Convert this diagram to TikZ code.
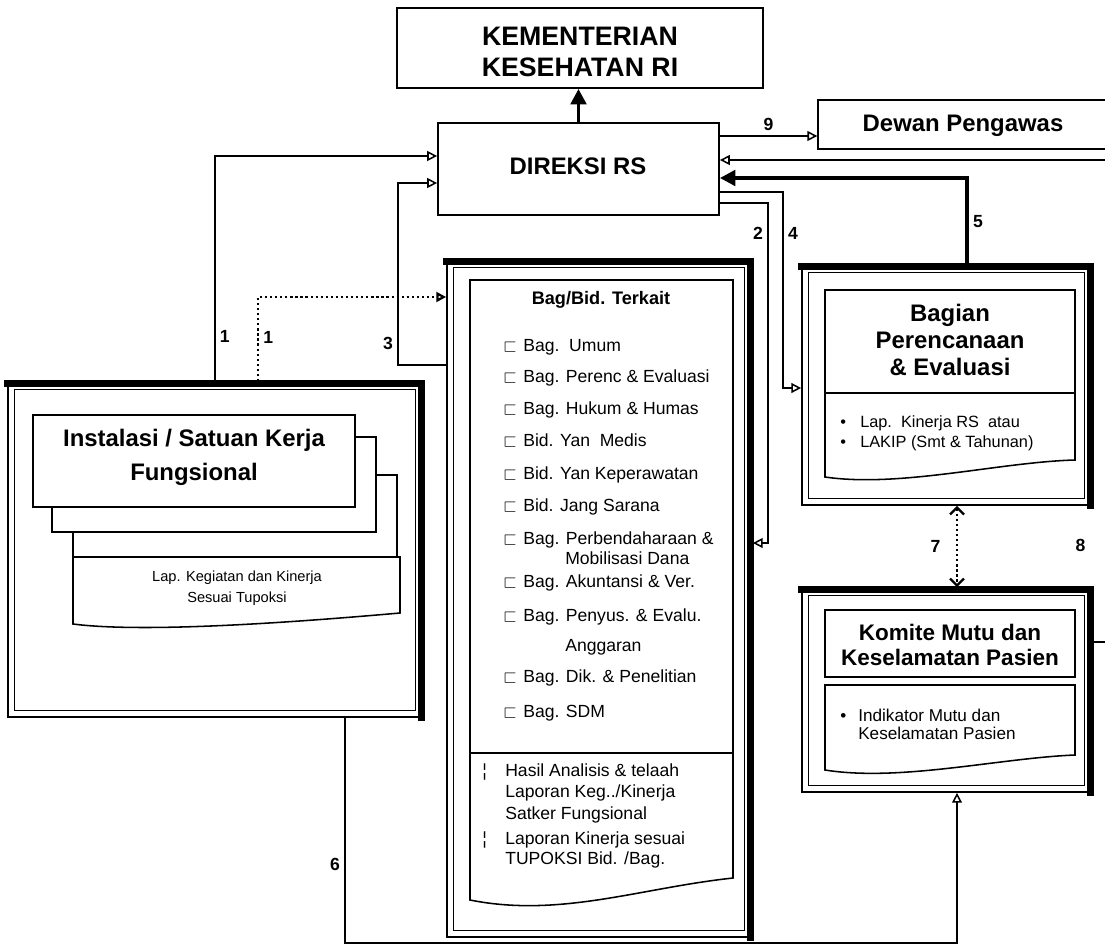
\documentclass[tikz,border=0pt]{standalone}
\usepackage{amssymb}
\usepackage{fontspec}
\setmainfont{Liberation Sans}
\usetikzlibrary{calc, arrows.meta, fit}

\begin{document}
\begin{tikzpicture}[x=0.025cm, y=-0.025cm,
    box/.style={draw, line width=1.3pt, fill=white, inner sep=0pt},
    dblframe/.style={draw, line width=1.2pt, fill=white, inner sep=0pt},
    card/.style={draw, line width=1.1pt, fill=white},
    item/.style={anchor=west, inner sep=0pt, text height=9pt, text depth=2.5pt, font=\fontsize{12.5}{14}\selectfont},
    num/.style={font=\bfseries\fontsize{12.5}{14}\selectfont, inner sep=3pt},
    link/.style={line width=1.1pt, -{Triangle[open, length=7pt, width=7pt]}},
    dotlink/.style={line width=1.6pt, dotted, -{Triangle[open, length=7pt, width=7pt]}},
    bigarrow/.style={line width=2.6pt, -{Triangle[length=11pt, width=11pt]}}]

    \useasboundingbox (0,0) rectangle (1105,949);
    \clip (0,0) rectangle (1105,949);

    % Top boxes
    \node[box, fit={(397,8) (763,88)}] (kemenkes) {};
    \node[align=center, font=\bfseries\fontsize{19}{21.5}\selectfont] (kemenkestxt) at (580,52) {KEMENTERIAN\\KESEHATAN RI};
    \node[box, fit={(438,123) (719,215)}] (direksi) {};
    \node[font=\bfseries\fontsize{17}{20}\selectfont] (direksitxt) at (578,166) {DIREKSI RS};
    \node[box, line width=1pt, fit={(818,100) (1118,149)}] (dewan) {};
    \node[font=\bfseries\fontsize{17}{20}\selectfont] (dewantxt) at (963,126) {Dewan Pengawas};

    % Double frames
    \node[dblframe, fit={(8,382) (423,717)}] (instalasi) {};
    \node[dblframe, fit={(447,260) (752,937)}] (bagbid) {};
    \node[dblframe, fit={(802,265) (1092,505)}] (perencanaan) {};
    \node[dblframe, fit={(802,588) (1092,792)}] (komite) {};
    \foreach \f in {instalasi, bagbid, perencanaan, komite} {
        \draw[line width=5pt, line cap=rect] ($(\f.south east)+(-2,0)$) -- ($(\f.north east)+(-2,2)$) -- ($(\f.north west)+(0,2)$);
        \draw[line width=0.6pt] ($(\f.north west)+(7,8)$) rectangle ($(\f.south east)+(-8,-7)$);
    }

    % Instalasi / Satuan Kerja Fungsional
    \draw[card] (73,475) rectangle (397,557);
    \draw[card] (52,437) rectangle (376,532);
    \node[card, fit={(33,415) (355,507)}, inner sep=0pt] (instcard) {};
    \node[align=center, font=\bfseries\fontsize{17}{24}\selectfont] (insttxt) at (194,457) {Instalasi / Satuan Kerja\\Fungsional};
    \draw[card] (73,557) -- (400,557) -- (400,613) .. controls (320,620) and (150,634) .. (73,624) -- cycle;
    \node[align=center, font=\fontsize{10.4}{15}\selectfont] (lapkeg) at (237,588) {Lap. Kegiatan dan Kinerja\\Sesuai Tupoksi};

    % Bag/Bid. Terkait
    \draw[card] (470,280) -- (733,280) -- (733,878) .. controls (640,888) and (560,918) .. (470,900) -- cycle;
    \draw[line width=1.1pt] (470,753) -- (733,753);
    \node[font=\bfseries\fontsize{12.9}{15}\selectfont] (bagtitle) at (601,300) {Bag/Bid. Terkait};
    \foreach \y/\txt in {347/{Bag.\ \ Umum}, 378/{Bag. Perenc \& Evaluasi}, 410/{Bag. Hukum \& Humas},
                         442/{Bid. Yan\ \ Medis}, 475/{Bid. Yan Keperawatan}, 507/{Bid. Jang Sarana},
                         540/{Bag. Perbendaharaan \&}, 583/{Bag. Akuntansi \& Ver.},
                         617/{Bag. Penyus. \& Evalu.}, 678/{Bag. Dik. \& Penelitian}, 713/{Bag. SDM}} {
        \node[item] (bul\y) at (503,\y) {$\sqsubset$};
        \node[item] (itm\y) at (523,\y) {\txt};
    }
    \node[item] (itm560) at (565,560) {Mobilisasi Dana};
    \node[item] (itm647) at (565,647) {Anggaran};
    \foreach \y/\txt in {772/{Hasil Analisis \& telaah}, 793/{Laporan Keg../Kinerja}, 815/{Satker Fungsional},
                         840/{Laporan Kinerja sesuai}, 860/{TUPOKSI Bid. /Bag.}} {
        \node[item] (hsl\y) at (505,\y) {\txt};
    }
    \node[item] (bar772) at (482,772) {¦};
    \node[item] (bar840) at (482,840) {¦};

    % Bagian Perencanaan & Evaluasi
    \draw[card] (825,290) -- (1075,290) -- (1075,460) .. controls (1000,462) and (900,488) .. (825,477) -- cycle;
    \draw[line width=1.1pt] (825,393) -- (1075,393);
    \node[align=center, font=\bfseries\fontsize{17}{19.3}\selectfont] (pertitle) at (950,340) {Bagian\\Perencanaan\\\& Evaluasi};
    \node[item, font=\fontsize{11.6}{13}\selectfont] (perbul1) at (840,423) {•};
    \node[item, font=\fontsize{11.6}{13}\selectfont] (perbul2) at (840,443) {•};
    \node[item, font=\fontsize{11.6}{13}\selectfont] (lapkin) at (860,423) {Lap.\ \ Kinerja RS\ \ atau};
    \node[item, font=\fontsize{11.6}{13}\selectfont] (lakip) at (860,443) {LAKIP (Smt \& Tahunan)};

    % Komite Mutu
    \node[card, fit={(825,610) (1075,677)}, inner sep=0pt] (komtitle) {};
    \node[align=center, font=\bfseries\fontsize{16}{17.8}\selectfont] (komtxt) at (950,645) {Komite Mutu dan\\Keselamatan Pasien};
    \draw[card] (825,685) -- (1075,685) -- (1075,755) .. controls (1000,758) and (900,782) .. (825,770) -- cycle;
    \node[item, font=\fontsize{12.2}{13}\selectfont] (kombul) at (840,717) {•};
    \node[item, font=\fontsize{12.2}{13}\selectfont] (indik1) at (858,717) {Indikator Mutu dan};
    \node[item, font=\fontsize{12.2}{13}\selectfont] (indik2) at (858,735) {Keselamatan Pasien};

    % Bend points
    \coordinate (c1s) at (215,156);
    \coordinate (c1d) at (258,297);
    \coordinate (c2a) at (768,203);
    \coordinate (c2b) at (768,543);
    \coordinate (c3a) at (398,365);
    \coordinate (c3b) at (398,183);
    \coordinate (c4a) at (783,192);
    \coordinate (c4b) at (783,388);
    \coordinate (c5) at (967,178);
    \coordinate (c6a) at (345,943);
    \coordinate (c6b) at (957,943);
    \coordinate (c7) at (957,545);
    \coordinate (c8a) at (1110,642);
    \coordinate (c8b) at (1110,160);
    \coordinate (c9) at (768,136);

    % Connectors
    \draw[bigarrow] (direksi.north) -- (kemenkes.south -| direksi.north);
    \draw[link] (direksi.east |- c9) -- (dewan.west |- c9) node[num, midway, above] {9};
    \draw[link] (instalasi.north -| c1s) -- (c1s) node[num, pos=0.2, right] {1} -- (direksi.west |- c1s);
    \draw[dotlink] (instalasi.north -| c1d) -- (c1d) node[num, pos=0.52, right] {1} -- (bagbid.west |- c1d);
    \draw[link] (bagbid.west |- c3a) -- (c3a) -- (c3b) node[num, pos=0.12, left] {3} -- (direksi.west |- c3b);
    \draw[link] (direksi.east |- c2a) -- (c2a) -- (c2b) node[num, pos=0.09, left] {2} -- (bagbid.east |- c2b);
    \draw[link] (direksi.east |- c4a) -- (c4a) -- (c4b) node[num, pos=0.21, right] {4} -- (perencanaan.west |- c4b);
    \draw[bigarrow] (perencanaan.north -| c5) -- (c5) node[num, pos=0.5, right] {5} -- (direksi.east |- c5);
    \draw[link] (instalasi.south -| c6a) -- (c6a) node[num, pos=0.65, left] {6} -- (c6b) -- (komite.south -| c6b);
    \draw[line width=1.6pt, dotted, {Straight Barb[length=5pt, width=10pt]}-{Straight Barb[length=5pt, width=10pt]}]
        (perencanaan.south -| c7) -- (komite.north -| c7) node[num, midway, left=8pt] {7};
    \draw[link] (komite.east |- c8a) -- (c8a) -- (c8b) node[num, pos=0.2, left=14pt] {8} -- (direksi.east |- c8b);
\end{tikzpicture}
\end{document}
